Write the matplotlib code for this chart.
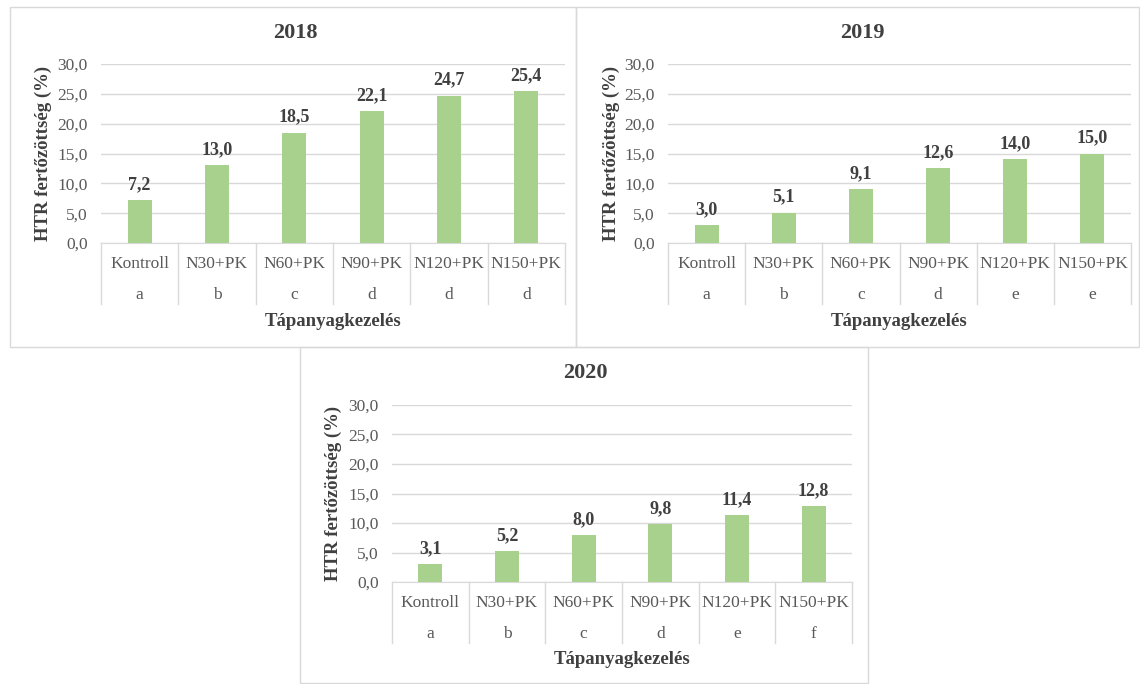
import matplotlib
matplotlib.use("Agg")
import matplotlib.pyplot as plt
from matplotlib.patches import Rectangle
from matplotlib.transforms import blended_transform_factory

# ── data ──────────────────────────────────────────────────────────────
categories = ["Kontroll", "N30+PK", "N60+PK", "N90+PK", "N120+PK", "N150+PK"]
years = ["2018", "2019", "2020"]
values_2018 = [7.2, 13.0, 18.5, 22.1, 24.7, 25.4]
values_2019 = [3.0, 5.1, 9.1, 12.6, 14.0, 15.0]
values_2020 = [3.1, 5.2, 8.0, 9.8, 11.4, 12.8]
letters_2018 = ["a", "b", "c", "d", "d", "d"]
letters_2019 = ["a", "b", "c", "d", "e", "e"]
letters_2020 = ["a", "b", "c", "d", "e", "f"]
y_ticks = [0, 5, 10, 15, 20, 25, 30]
y_label = "HTR fertőzöttség (%)"
x_label = "Tápanyagkezelés"

# ── style ─────────────────────────────────────────────────────────────
W, H = 1140, 684
BAR = "#A9D18E"
GRID = "#D9D9D9"
TXT = "#404040"
TICK = "#595959"
plt.rcParams["font.family"] = ["Liberation Serif", "DejaVu Serif"]

fig = plt.figure(figsize=(W / 100, H / 100), dpi=100)


def fx(px):
    return px / W


def fy(py):
    return 1 - py / H


def comma(v):
    return f"{v:.1f}".replace(".", ",")


def panel(box, ax_px, title_xy, ylab_x, values, letters, title):
    # box border: (left, top, right, bottom) in px
    l, t, r, b = box
    fig.add_artist(Rectangle((fx(l), fy(b)), fx(r - l), (b - t) / H,
                             transform=fig.transFigure, fill=False,
                             edgecolor=GRID, linewidth=1))
    al, at, ar, ab = ax_px
    ax = fig.add_axes([fx(al), fy(ab), fx(ar - al), (ab - at) / H])
    h = ab - at
    x = list(range(len(categories)))
    ax.bar(x, values, width=0.31, color=BAR, zorder=3)
    for xi, v in zip(x, values):
        ax.annotate(comma(v), (xi, v), xytext=(0, 5), textcoords="offset points",
                    ha="center", va="bottom", fontsize=13, fontweight="bold",
                    color=TXT)
    ax.set_xlim(-0.5, len(categories) - 0.5)
    ax.set_ylim(0, 30)
    ax.set_yticks(y_ticks)
    ax.set_yticklabels([comma(v) for v in y_ticks], fontsize=12.5, color=TICK)
    ax.set_xticks([])
    ax.tick_params(axis="y", length=0, pad=9.5)
    ax.grid(axis="y", color=GRID, linewidth=1, zorder=0)
    for s in ["top", "right", "left"]:
        ax.spines[s].set_visible(False)
    ax.spines["bottom"].set_color(GRID)

    # two-level category axis
    tr = blended_transform_factory(ax.transData, ax.transAxes)
    for i in range(len(categories) + 1):
        ax.plot([i - 0.5, i - 0.5], [0, -61 / h], transform=tr, color=GRID,
                linewidth=1, clip_on=False)
    for xi, cat, let in zip(x, categories, letters):
        ax.text(xi, -21 / h, cat, transform=tr, ha="center", va="center",
                fontsize=12.5, color=TICK)
        ax.text(xi, -52 / h, let, transform=tr, ha="center", va="center",
                fontsize=12.5, color=TICK)
    ax.text(0.5, -78 / h, x_label, transform=ax.transAxes, ha="center",
            va="center", fontsize=13.5, fontweight="bold", color=TXT)

    fig.text(fx(ylab_x), fy((at + ab) / 2), y_label, rotation=90,
             ha="center", va="center", fontsize=13.5, fontweight="bold",
             color=TXT)
    fig.text(fx(title_xy[0]), fy(title_xy[1]), title, ha="center",
             va="center", fontsize=16, fontweight="bold", color=TXT)


panel((10, 7, 576, 347), (101, 64, 565, 243), (295, 33), 43,
      values_2018, letters_2018, years[0])
panel((576, 7, 1139, 347), (668, 64, 1131, 243), (862, 33), 611,
      values_2019, letters_2019, years[1])
panel((300, 347, 868, 683), (392, 405, 852, 582), (585, 373), 333,
      values_2020, letters_2020, years[2])

fig.savefig("out.png", dpi=100, facecolor="white")
